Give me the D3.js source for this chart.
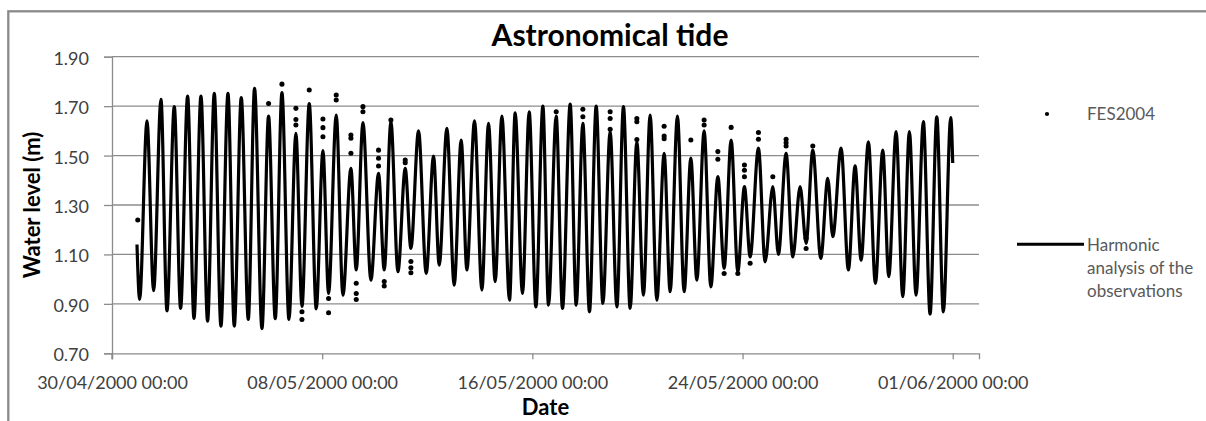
<!DOCTYPE html>
<html>
<head>
<meta charset="utf-8">
<script src="https://cdn.jsdelivr.net/npm/d3@7"></script>
<style>
  body { margin: 0; background: #fff; }
  svg { display: block; font-family: Lato, "Open Sans", sans-serif; }
</style>
</head>
<body>
<svg id="chart" width="1206" height="421"></svg>
<script>
// x ticks (every 8 days) and y ticks
const xTickLabels = ["30/04/2000 00:00", "08/05/2000 00:00", "16/05/2000 00:00", "24/05/2000 00:00", "01/06/2000 00:00"];
const yTicks = [0.70, 0.90, 1.10, 1.30, 1.50, 1.70, 1.90];

// harmonic analysis: turning points of the tide, days after 30/04/2000 00:00
const harmonicT = [0.951, 1.052, 1.332, 1.584, 1.864, 2.092, 2.371, 2.611, 2.878, 3.12,
  3.386, 3.638, 3.893, 4.147, 4.414, 4.654, 4.92, 5.187, 5.426, 5.708,
  5.959, 6.214, 6.469, 6.735, 7.0, 7.23, 7.508, 7.774, 8.029, 8.243,
  8.535, 8.79, 9.094, 9.296, 9.551, 9.855, 10.145, 10.362, 10.616, 10.883,
  11.161, 11.377, 11.667, 11.96, 12.238, 12.455, 12.747, 13.025, 13.291, 13.508,
  13.798, 14.079, 14.331, 14.585, 14.84, 15.13, 15.346, 15.624, 15.879, 16.134,
  16.4, 16.614, 16.907, 17.147, 17.44, 17.668, 17.922, 18.174, 18.429, 18.684,
  18.961, 19.216, 19.467, 19.722, 19.977, 20.228, 20.483, 20.738, 21.016, 21.244,
  21.522, 21.777, 22.032, 22.26, 22.538, 22.793, 23.06, 23.3, 23.566, 23.82,
  24.072, 24.289, 24.605, 24.859, 25.152, 25.365, 25.658, 25.913, 26.191, 26.419,
  26.674, 26.979, 27.245, 27.435, 27.751, 28.029, 28.284, 28.512, 28.79, 29.057,
  29.338, 29.566, 29.844, 30.099, 30.35, 30.605, 30.883, 31.138, 31.393, 31.644,
  31.925, 32.0];
const harmonicLevel = [1.14, 0.918, 1.64, 0.953, 1.727, 0.872, 1.698, 0.882, 1.741, 0.841,
  1.741, 0.83, 1.752, 0.81, 1.752, 0.81, 1.735, 0.837, 1.772, 0.80,
  1.66, 0.84, 1.755, 0.837, 1.59, 0.89, 1.71, 0.88, 1.52, 0.942,
  1.664, 0.935, 1.448, 1.037, 1.633, 0.996, 1.428, 1.037, 1.637, 1.03,
  1.448, 1.124, 1.60, 1.023, 1.498, 1.057, 1.61, 0.976, 1.563, 1.037,
  1.64, 0.956, 1.63, 0.99, 1.66, 0.915, 1.673, 0.942, 1.677, 0.888,
  1.70, 0.895, 1.66, 0.882, 1.708, 0.895, 1.63, 0.868, 1.70, 0.902,
  1.597, 0.888, 1.698, 0.882, 1.556, 0.935, 1.664, 0.915, 1.509, 0.949,
  1.66, 0.949, 1.49, 0.996, 1.60, 0.969, 1.415, 1.044, 1.563, 1.03,
  1.374, 1.09, 1.53, 1.07, 1.374, 1.10, 1.509, 1.09, 1.374, 1.145,
  1.522, 1.084, 1.408, 1.172, 1.53, 1.037, 1.458, 1.077, 1.556, 0.983,
  1.522, 1.01, 1.597, 0.929, 1.597, 0.935, 1.637, 0.859, 1.657, 0.868,
  1.654, 1.47];

// FES2004 points that stand clear of the harmonic curve
const fesT = [0.98, 5.959, 6.469, 7.0, 7.0, 7.0, 7.23, 7.23, 7.508, 8.029,
  8.029, 8.029, 8.243, 8.243, 8.535, 8.535, 9.094, 9.094, 9.094, 9.296,
  9.296, 9.296, 9.551, 9.551, 10.145, 10.145, 10.145, 10.362, 10.362, 10.616,
  11.161, 11.161, 11.377, 11.377, 11.377, 16.907, 17.922, 17.922, 18.961, 18.961,
  18.961, 19.977, 19.977, 19.977, 21.016, 21.016, 21.016, 22.032, 22.538, 22.538,
  23.06, 23.06, 23.3, 23.566, 23.82, 24.072, 24.072, 24.072, 24.289, 24.605,
  24.605, 24.859, 25.152, 25.365, 25.658, 25.658, 25.658, 26.419, 26.419, 26.674];
const fesLevel = [1.239, 1.711, 1.789, 1.691, 1.646, 1.624, 0.868, 0.837, 1.765, 1.648,
  1.613, 1.576, 0.922, 0.864, 1.745, 1.725, 1.583, 1.57, 1.509, 0.983,
  0.942, 0.918, 1.698, 1.677, 1.522, 1.489, 1.458, 0.99, 0.972, 1.644,
  1.482, 1.471, 1.071, 1.046, 1.026, 1.677, 1.687, 1.657, 1.677, 1.65,
  1.606, 1.65, 1.637, 1.565, 1.619, 1.579, 1.568, 1.563, 1.644, 1.624,
  1.516, 1.485, 1.023, 1.614, 1.023, 1.462, 1.441, 1.414, 1.064, 1.593,
  1.566, 1.111, 1.414, 1.124, 1.566, 1.552, 1.539, 1.165, 1.124, 1.539];

const parse = d3.timeParse("%d/%m/%Y %H:%M");
const start = parse(xTickLabels[0]);
const toDate = t => new Date(start.getTime() + t * 864e5);

const svg = d3.select("#chart");
const plotLeft = 112, plotRight = 979, plotTop = 56.7, plotBottom = 353.3;
const gridColor = "#8c8c8c";
const textColor = "#404040";

// chart border
svg.append("rect")
  .attr("x", 8.3).attr("y", 11.3)
  .attr("width", 1220).attr("height", 440)
  .attr("fill", "none").attr("stroke", "#8a8a8a").attr("stroke-width", 2.3);

const x = d3.scaleTime()
  .domain([start, d3.timeDay.offset(start, 33)])
  .range([plotLeft, plotRight]);

const y = d3.scaleLinear()
  .domain([0.7, 1.9])
  .range([plotBottom, plotTop]);

// gridlines
svg.append("g")
  .selectAll("line")
  .data(yTicks.slice(1))
  .enter()
  .append("line")
  .attr("x1", plotLeft).attr("x2", plotRight)
  .attr("y1", d => y(d)).attr("y2", d => y(d))
  .attr("stroke", gridColor).attr("stroke-width", 1.3);

// y axis
const yAxis = svg.append("g")
  .attr("transform", "translate(" + plotLeft + ",0)")
  .call(d3.axisLeft(y).tickValues(yTicks).tickFormat(d3.format(".2f")).tickSize(8).tickPadding(15));

// x axis
const xAxis = svg.append("g")
  .attr("transform", "translate(0," + plotBottom + ")")
  .call(d3.axisBottom(x).tickValues(xTickLabels.map(parse))
    .tickFormat(d3.timeFormat("%d/%m/%Y %H:%M")).tickSize(6).tickPadding(17));

[xAxis, yAxis].forEach(g => {
  g.selectAll(".domain").attr("stroke", gridColor).attr("stroke-width", 1.3);
  g.selectAll(".tick line").attr("stroke", gridColor).attr("stroke-width", 1.3);
  g.selectAll("text").attr("fill", textColor).style("font-size", "18px").style("font-family", "Lato");
});
yAxis.selectAll("text").attr("dy", "0.42em");
// y axis line extends down to the x tick length
yAxis.append("line").attr("x1", 0).attr("x2", 0).attr("y1", plotBottom).attr("y2", plotBottom + 6)
  .attr("stroke", gridColor).attr("stroke-width", 1.3);

// harmonic curve
const harmonic = harmonicT.map((t, i) => ({ date: toDate(t), level: harmonicLevel[i] }));
svg.append("path")
  .datum(harmonic)
  .attr("fill", "none")
  .attr("stroke", "#000")
  .attr("stroke-width", 3.2)
  .attr("stroke-linejoin", "round")
  .attr("d", d3.line().x(d => x(d.date)).y(d => y(d.level)).curve(d3.curveMonotoneX));

// FES2004 points
const fes = fesT.map((t, i) => ({ date: toDate(t), level: fesLevel[i] }));
const marker = d3.symbol().type(d3.symbolCircle).size(20);
svg.append("g")
  .selectAll("path")
  .data(fes)
  .enter()
  .append("path")
  .attr("d", marker)
  .attr("transform", d => "translate(" + x(d.date) + "," + y(d.level) + ")")
  .attr("fill", "#000");

// title and axis titles
svg.append("text")
  .attr("x", 610).attr("y", 46)
  .attr("text-anchor", "middle")
  .style("font-size", "30px").style("font-weight", "bold")
  .attr("fill", "#000")
  .text("Astronomical tide");

svg.append("text")
  .attr("x", (plotLeft + plotRight) / 2).attr("y", 415)
  .attr("text-anchor", "middle")
  .style("font-size", "22px").style("font-weight", "bold")
  .attr("fill", "#000")
  .text("Date");

svg.append("text")
  .attr("transform", "translate(40,205) rotate(-90)")
  .attr("text-anchor", "middle")
  .style("font-size", "22px").style("font-weight", "bold")
  .attr("fill", "#000")
  .text("Water level (m)");

// legend
const legend = svg.append("g").style("font-size", "17px").attr("fill", "#595959");
legend.append("path")
  .attr("d", d3.symbol().type(d3.symbolCircle).size(14))
  .attr("transform", "translate(1047,114)")
  .attr("fill", "#000");
legend.append("text").attr("x", 1087).attr("y", 120).text("FES2004");
legend.append("line")
  .attr("x1", 1017).attr("x2", 1084).attr("y1", 244.3).attr("y2", 244.3)
  .attr("stroke", "#000").attr("stroke-width", 3);
["Harmonic", "analysis of the", "observations"].forEach((s, i) => {
  legend.append("text").attr("x", 1087).attr("y", 251 + i * 22.8).text(s);
});
</script>
</body>
</html>
